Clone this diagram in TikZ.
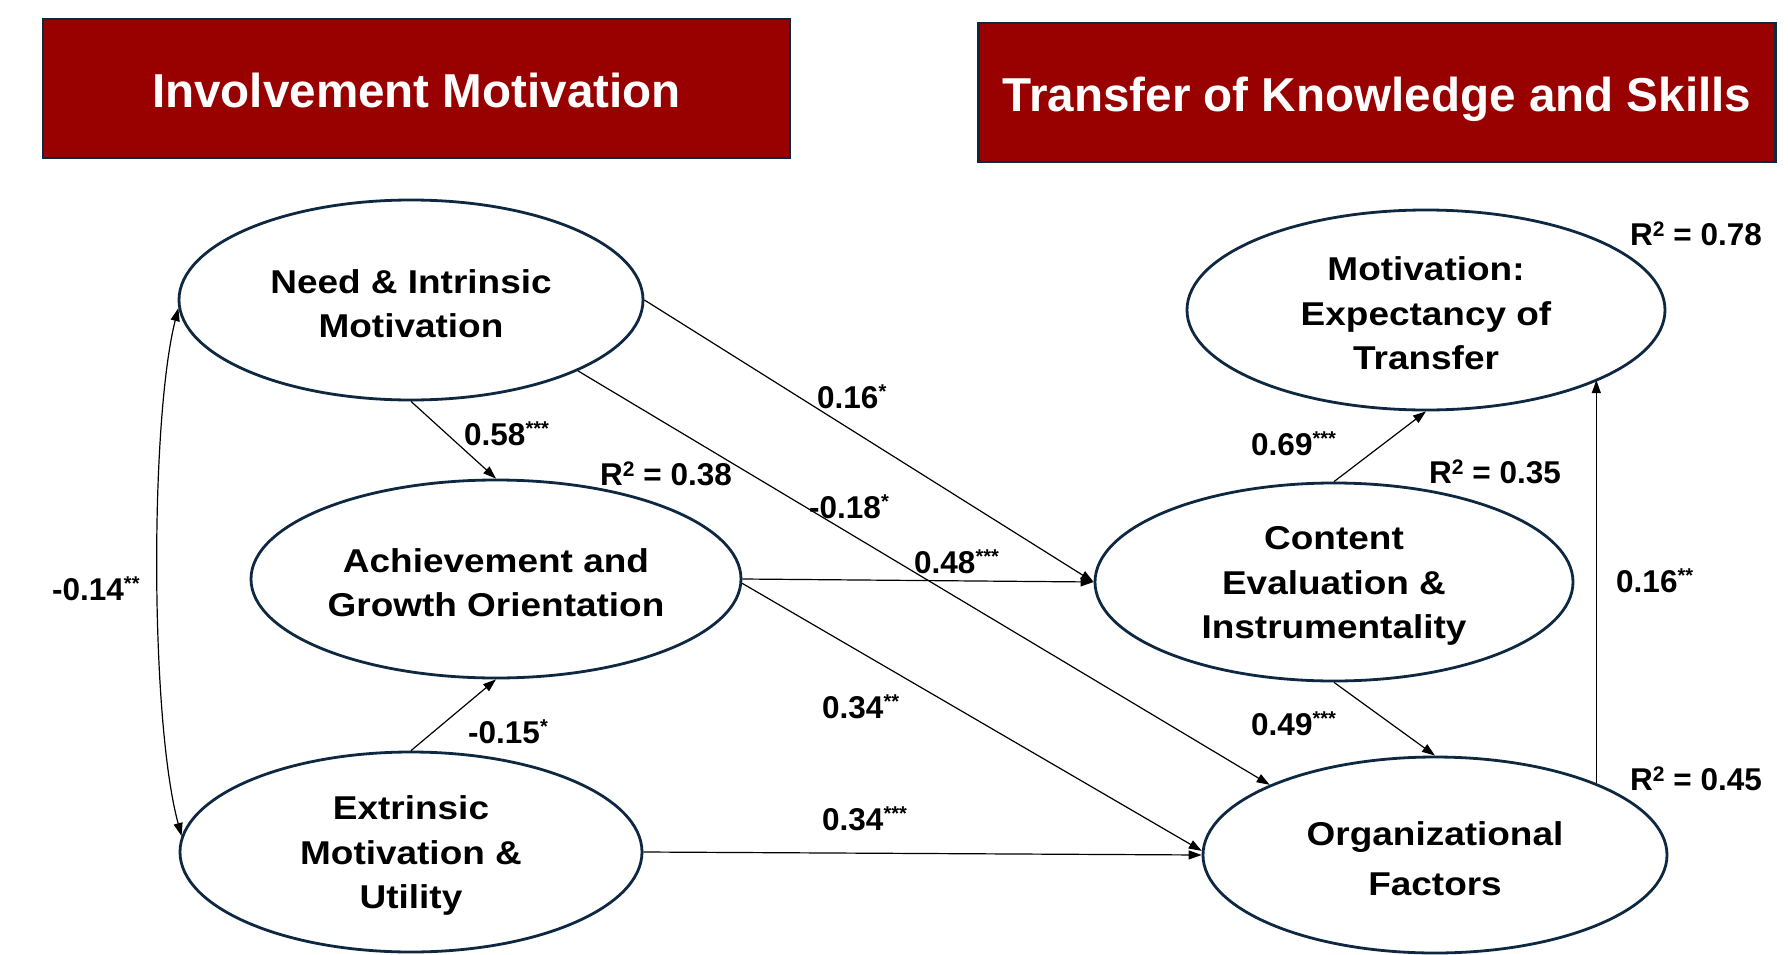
\documentclass[tikz,border=0pt]{standalone}
\usepackage{fontspec}
\setmainfont{Liberation Sans}
\newfontfamily\ellfont{Liberation Sans}[FakeStretch=1.12]
\usetikzlibrary{arrows.meta,shapes.geometric}
\definecolor{hdrred}{RGB}{153,0,0}
\definecolor{inkblue}{HTML}{0E2841}
% significance stars and the squared sign of R
\newcommand\upmark[1]{\raisebox{10pt}{\fontsize{20}{20}\selectfont #1}}
\newcommand\rsq{R\raisebox{8.5pt}{\fontsize{21}{21}\selectfont 2}}
% taller first line keeps construct labels a little below centre
\newcommand\firstlinestrut{\rule{0pt}{31pt}}
\begin{document}
\begin{tikzpicture}[x=1pt,y=-1pt,
  header/.style={draw=inkblue, line width=2.5pt, fill=hdrred, text=white,
    font=\bfseries\fontsize{47.6}{50}\selectfont, inner sep=0pt,
    text height=38pt, text depth=0pt},
  construct/.style={ellipse, draw=inkblue, line width=2.8pt, inner sep=0pt,
    align=center, font=\ellfont\bfseries\fontsize{33}{44.5}\selectfont},
  coef/.style={anchor=base west, inner sep=0pt,
    font=\bfseries\fontsize{31.5}{36}\selectfont},
  link/.style={draw=black, line width=1.2pt, -{Triangle[length=13pt,width=9pt]}}
]
\fill[white] (0,0) rectangle (1788,955);
\useasboundingbox (0,0) rectangle (1788,955);

% section headers
\node[header, minimum width=747pt, minimum height=139pt] (hdrL) at (416.5,88.5) {Involvement Motivation};
\node[header, minimum width=797pt, minimum height=139pt] (hdrR) at (1377,92.5) {Transfer of Knowledge and Skills};

% constructs
\node[construct, minimum width=464pt, minimum height=200pt] (need) at (411,300) {\firstlinestrut Need \& Intrinsic\\Motivation};
\node[construct, minimum width=490pt, minimum height=198pt] (ach) at (496,579) {\firstlinestrut Achievement and\\Growth Orientation};
\node[construct, minimum width=462pt, minimum height=200pt] (ext) at (411,852) {\firstlinestrut Extrinsic\\Motivation \&\\Utility};
\node[construct, minimum width=478pt, minimum height=200pt] (mot) at (1426,310) {\firstlinestrut Motivation:\\Expectancy of\\Transfer};
\node[construct, minimum width=478pt, minimum height=198pt] (cont) at (1334,582) {\firstlinestrut Content\\Evaluation \&\\Instrumentality};
\node[construct, minimum width=464pt, minimum height=196pt,
  font=\ellfont\bfseries\fontsize{33}{50}\selectfont] (org) at (1435,855) {\firstlinestrut Organizational\\Factors};

% structural paths
\draw[link] (need.east) -- (cont.west);
\draw[link] (need.-23) -- (org.157);
\draw[link] (need.south) -- (ach.north);
\draw[link] (ach.east) -- (cont.west);
\draw[link] (ach.-1) -- (org.179);
\draw[link] (ext.east) -- (org.west);
\draw[link] (ext.north) -- (ach.south);
\draw[link] (cont.north) -- (mot.south);
\draw[link] (cont.south) -- (org.north);
\draw[link] (org.24) -- (org.24 |- mot.-22);
\draw[link, {Triangle[length=13pt,width=9pt]}-{Triangle[length=13pt,width=9pt]}]
  (need.182) .. controls (150,420) and (150,720) .. (ext.176);

% path coefficients and explained variance
\node[coef] (c1) at (464,445) {0.58\upmark{***}};
\node[coef] (r1) at (600,485) {\rsq{} = 0.38};
\node[coef] (c2) at (817,408) {0.16\upmark{*}};
\node[coef] (c3) at (809,518) {-0.18\upmark{*}};
\node[coef] (c4) at (914,573) {0.48\upmark{***}};
\node[coef] (c5) at (52,600) {-0.14\upmark{**}};
\node[coef] (c6) at (468,743) {-0.15\upmark{*}};
\node[coef] (c7) at (822,718) {0.34\upmark{**}};
\node[coef] (c8) at (822,830) {0.34\upmark{***}};
\node[coef] (c9) at (1251,455) {0.69\upmark{***}};
\node[coef] (r2) at (1429,483) {\rsq{} = 0.35};
\node[coef] (r3) at (1630,245) {\rsq{} = 0.78};
\node[coef] (c10) at (1616,592) {0.16\upmark{**}};
\node[coef] (c11) at (1251,735) {0.49\upmark{***}};
\node[coef] (r4) at (1630,790) {\rsq{} = 0.45};
\end{tikzpicture}
\end{document}
